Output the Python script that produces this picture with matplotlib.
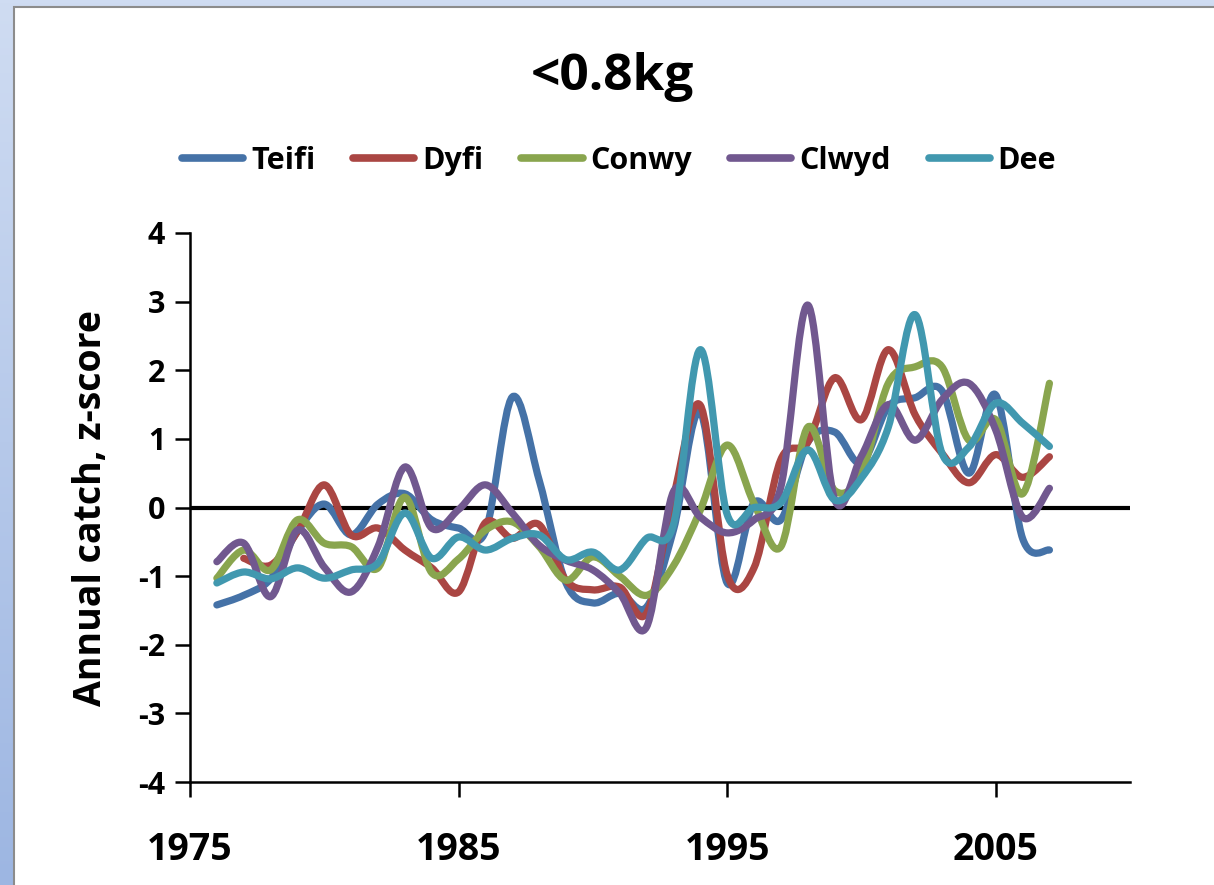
import numpy as np
import matplotlib
matplotlib.use("Agg")
import matplotlib.pyplot as plt
from matplotlib.path import Path
from matplotlib.patches import PathPatch, Rectangle
from matplotlib.lines import Line2D

plt.rcParams["font.family"] = ["Open Sans", "DejaVu Sans"]
plt.rcParams["font.weight"] = "bold"
plt.rcParams["axes.unicode_minus"] = False

years = list(range(1976, 2008))

teifi = [-1.42, -1.28, -1.04, -0.35, 0.05, -0.40, 0.05, 0.20, -0.18, -0.30,
         -0.35, 1.61, 0.40, -1.10, -1.39, -1.25, -1.45, -0.33, 1.39, -1.10,
         0.07, -0.18, 0.95, 1.10, 0.65, 1.47, 1.60, 1.70, 0.50, 1.64,
         -0.45, -0.62]
dyfi = [np.nan, -0.74, -0.84, -0.35, 0.33, -0.40, -0.30, -0.62, -0.88, -1.23,
        -0.22, -0.45, -0.25, -1.06, -1.20, -1.16, -1.54, 0.15, 1.49, -0.98,
        -0.88, 0.70, 0.95, 1.89, 1.28, 2.30, 1.35, 0.79, 0.36, 0.77,
        0.44, 0.74]
conwy = [-1.03, -0.62, -0.91, -0.18, -0.52, -0.57, -0.88, 0.15, -0.95, -0.75,
         -0.33, -0.21, -0.57, -1.06, -0.72, -1.00, -1.28, -0.85, -0.04, 0.91,
         0.06, -0.57, 1.17, 0.25, 0.50, 1.81, 2.05, 2.05, 0.98, 1.28,
         0.20, 1.81]
clwyd = [-0.79, -0.52, -1.30, -0.33, -0.87, -1.23, -0.57, 0.59, -0.30, -0.03,
         0.33, -0.08, -0.55, -0.77, -0.91, -1.25, -1.74, 0.23, -0.14, -0.37,
         -0.18, 0.30, 2.95, 0.12, 0.75, 1.50, 0.98, 1.57, 1.81, 1.13,
         -0.14, 0.28]
dee = [-1.10, -0.94, -1.04, -0.88, -1.03, -0.91, -0.81, -0.08, -0.74, -0.43,
       -0.62, -0.45, -0.40, -0.76, -0.65, -0.91, -0.45, -0.25, 2.30, -0.10,
       0.00, 0.07, 0.84, 0.11, 0.43, 1.17, 2.81, 0.79, 0.88, 1.52,
       1.23, 0.89]

rivers = ["Teifi", "Dyfi", "Conwy", "Clwyd", "Dee"]
series = [teifi, dyfi, conwy, clwyd, dee]
colors = ["#4572A7", "#AA4643", "#89A54E", "#71588F", "#4198AF"]


def smooth_path(xs, ys):
    """Cubic Bezier path through the points, spreadsheet-style smoothing."""
    pts = [(x, y) for x, y in zip(xs, ys) if not np.isnan(y)]
    pts = np.array(pts, dtype=float)
    n = len(pts)
    verts = [pts[0]]
    codes = [Path.MOVETO]
    for i in range(n - 1):
        p0 = pts[max(i - 1, 0)]
        p1 = pts[i]
        p2 = pts[i + 1]
        p3 = pts[min(i + 2, n - 1)]
        c1 = p1 + (p2 - p0) / 6.0
        c2 = p2 - (p3 - p1) / 6.0
        verts += [c1, c2, p2]
        codes += [Path.CURVE4] * 3
    return Path(verts, codes)


fig = plt.figure(figsize=(12.14, 8.85), dpi=100)
fig.patch.set_facecolor("white")

# slide background strip on the left and top edge
bg = fig.add_axes([0, 0, 1, 1], zorder=-2)
grad = np.linspace(0, 1, 256).reshape(-1, 1)
bg.imshow(grad, cmap=matplotlib.colors.LinearSegmentedColormap.from_list(
    "bg", ["#cfdcf2", "#9db6e2"]), aspect="auto", extent=[0, 1, 0, 1])
bg.set_xlim(0, 1)
bg.set_ylim(0, 1)
bg.axis("off")
bg.add_patch(Rectangle((14 / 1214, -0.01), 1.0, 1 - 7 / 885 + 0.01,
                       facecolor="white", edgecolor="#8c8c8c", linewidth=1.5))

ax = fig.add_axes([190 / 1214, 1 - 782 / 885, (1130 - 190) / 1214, (782 - 233) / 885])
ax.set_facecolor("none")

for name, vals, col in zip(rivers, series, colors):
    patch = PathPatch(smooth_path(years, vals), facecolor="none", edgecolor=col,
                      linewidth=5.2, capstyle="round", joinstyle="round", zorder=3)
    ax.add_patch(patch)

ax.axhline(0, color="black", linewidth=3, zorder=2)

ax.set_xlim(1975, 2010)
ax.set_ylim(-4, 4)
ax.set_xticks([1975, 1985, 1995, 2005])
ax.set_yticks(range(-4, 5))
ax.tick_params(axis="both", direction="out", length=11, width=1.8)
ax.tick_params(axis="x", labelsize=27, pad=24)
ax.tick_params(axis="y", labelsize=22, pad=7)
for lab in ax.get_xticklabels() + ax.get_yticklabels():
    lab.set_fontweight("bold")
for side in ("top", "right"):
    ax.spines[side].set_visible(False)
for side in ("left", "bottom"):
    ax.spines[side].set_linewidth(1.8)

ax.set_ylabel("Annual catch, z-score", fontsize=27, fontweight="bold", labelpad=20)

fig.text(612 / 1214, 1 - 77 / 885, "<0.8kg", ha="center", va="center",
         fontsize=37, fontweight="bold")

handles = [Line2D([0], [0], color=c, linewidth=5.5, solid_capstyle="round") for c in colors]
fig.legend(handles, rivers, loc="center", bbox_to_anchor=(619 / 1214, 1 - 161 / 885),
           ncol=5, frameon=False, prop={"weight": "bold", "size": 22},
           handlelength=2.0, handletextpad=0.25, columnspacing=1.25)

fig.savefig("out.png", dpi=100)
